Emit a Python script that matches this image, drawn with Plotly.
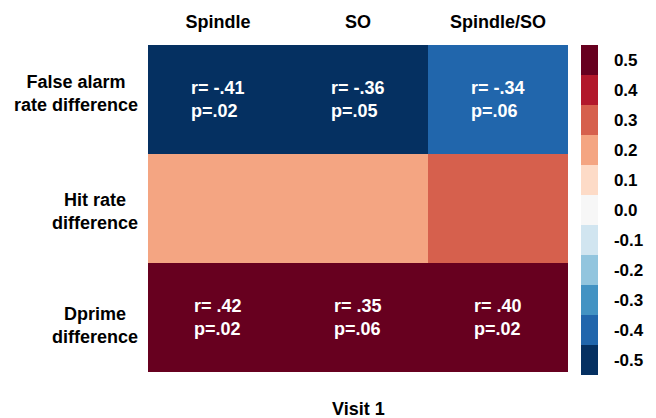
import plotly.graph_objects as go

columns = ["Spindle", "SO", "Spindle/SO"]
rows = ["False alarm<br>rate difference", "Hit rate<br>difference", "Dprime<br>difference"]
# colour level of each cell
levels = [
    [-0.5, -0.5, -0.4],
    [0.2, 0.2, 0.3],
    [0.5, 0.5, 0.5],
]
r_text = [
    ["-.41", "-.36", "-.34"],
    [None, None, None],
    [".42", ".35", ".40"],
]
p_text = [
    [".02", ".05", ".06"],
    [None, None, None],
    [".02", ".06", ".02"],
]
palette = ["#053061", "#2166ac", "#4393c3", "#92c5de", "#d1e5f0", "#f7f7f7",
           "#fddbc7", "#f4a582", "#d6604d", "#b2182b", "#67001f"]
cb_ticks = [-0.5, -0.4, -0.3, -0.2, -0.1, 0.0, 0.1, 0.2, 0.3, 0.4, 0.5]

n = len(palette)
colorscale = []
for i, c in enumerate(palette):
    colorscale.append([i / n, c])
    colorscale.append([(i + 1) / n, c])

FONT = "Liberation Sans, Arial, sans-serif"

fig = go.Figure(go.Heatmap(
    z=levels, x=columns, y=rows,
    colorscale=colorscale, zmin=-0.55, zmax=0.55,
    xgap=0, ygap=0,
    hoverinfo="skip",
    colorbar=dict(
        tickvals=cb_ticks,
        ticktext=[f"<b>{v:.1f}</b>" for v in cb_ticks],
        tickfont=dict(family=FONT, size=17, color="black"),
        thickness=17, len=330, lenmode="pixels",
        x=1.031, xanchor="left", y=1.0, yanchor="top",
        xpad=0, ypad=0,
        outlinewidth=0, ticks="outside", ticklen=13, tickcolor="white",
    ),
))

annotations = []
for i, row in enumerate(rows):
    for j, col in enumerate(columns):
        if r_text[i][j] is None:
            continue
        annotations.append(dict(
            x=col, y=row, xref="x", yref="y",
            text=f"<b>r= {r_text[i][j]}<br>p={p_text[i][j]}</b>",
            showarrow=False, align="left",
            font=dict(family=FONT, size=18, color="white"),
        ))
label_shift = [6, -3, -8]
for row, sh in zip(rows, label_shift):
    annotations.append(dict(
        x=-0.02, y=row, xref="paper", yref="y", xanchor="right", yshift=sh,
        text=f"<b>{row}</b>", showarrow=False, align="center",
        font=dict(family=FONT, size=18, color="black"),
    ))
annotations.append(dict(
    x=0.5, y=-0.113, xref="paper", yref="paper", yanchor="middle",
    text="<b>Visit 1</b>", showarrow=False,
    font=dict(family=FONT, size=18, color="black"),
))

fig.update_layout(
    width=648, height=410,
    margin=dict(l=140, r=88, t=37, b=46),
    paper_bgcolor="white", plot_bgcolor="white",
    annotations=annotations,
    xaxis=dict(side="top", tickvals=columns, ticktext=[f"<b>{c}</b>" for c in columns],
               tickfont=dict(family=FONT, size=18, color="black"),
               showgrid=False, zeroline=False, ticks="", ticklabelstandoff=12,
               automargin=False),
    yaxis=dict(autorange="reversed", tickvals=rows, showticklabels=False,
               showgrid=False, zeroline=False, ticks="", automargin=False),
)

fig.write_html("out.html")
